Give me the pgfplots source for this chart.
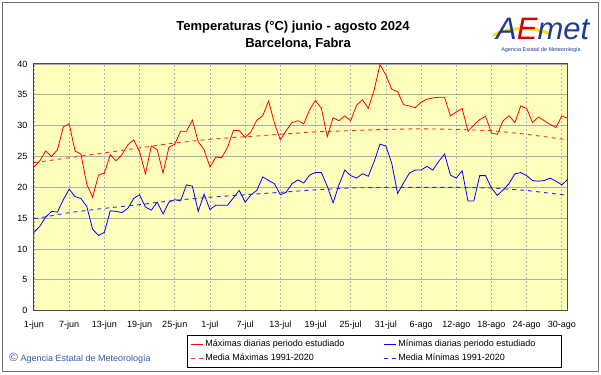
\documentclass[border=0pt]{standalone}
\usepackage{pgfplots}
\pgfplotsset{compat=1.18}
\usepackage{pgfplotstable}
\usetikzlibrary{calc}
\usepackage{fontspec}
\setmainfont{Liberation Sans}
\definecolor{plotbg}{RGB}{255,255,188}
\definecolor{aemetblue}{RGB}{30,60,150}
\definecolor{copyblue}{RGB}{50,90,170}
\pgfplotstableread{
d v
0 23.3
1 24.3
2 25.9
3 25.0
4 26.1
5 29.8
6 30.3
7 25.9
8 25.4
9 20.5
10 18.4
11 22.0
12 22.3
13 25.3
14 24.3
15 25.3
16 26.9
17 27.7
18 25.8
19 22.2
20 26.7
21 26.1
22 22.3
23 26.5
24 27.0
25 29.1
26 29.1
27 30.9
28 27.4
29 26.1
30 23.3
31 24.9
32 24.8
33 26.5
34 29.2
35 29.2
36 28.1
37 29.0
38 30.9
39 31.6
40 34.0
41 30.4
42 27.7
43 29.2
44 30.5
45 30.8
46 30.3
47 32.6
48 34.1
49 32.8
50 28.2
51 31.3
52 30.8
53 31.6
54 30.8
55 33.3
56 34.2
57 32.8
58 35.8
59 39.9
60 38.2
61 35.9
62 35.5
63 33.4
64 33.2
65 32.9
66 33.8
67 34.3
68 34.5
69 34.6
70 34.6
71 31.6
72 32.2
73 32.8
74 29.1
75 30.1
76 31.0
77 31.5
78 28.8
79 28.6
80 30.8
81 31.6
82 30.5
83 33.2
84 32.8
85 30.5
86 31.4
87 30.8
88 30.2
89 29.7
90 31.6
91 31.2
}\maxtable
\pgfplotstableread{
d v
0 12.7
1 13.7
2 15.2
3 16.1
4 16.0
5 18.0
6 19.7
7 18.5
8 18.2
9 16.9
10 13.2
11 12.2
12 12.7
13 16.2
14 16.1
15 15.9
16 16.6
17 18.2
18 18.8
19 16.8
20 16.3
21 17.6
22 15.7
23 17.6
24 18.0
25 17.8
26 20.4
27 20.2
28 16.1
29 18.9
30 16.4
31 17.1
32 17.1
33 17.1
34 18.3
35 19.5
36 17.6
37 18.8
38 19.5
39 21.7
40 21.1
41 20.6
42 18.8
43 19.2
44 20.6
45 21.2
46 20.7
47 22.0
48 22.4
49 22.4
50 20.2
51 17.5
52 20.4
53 22.8
54 21.9
55 21.5
56 22.2
57 21.8
58 24.2
59 27.0
60 26.7
61 23.9
62 19.0
63 20.7
64 22.3
65 22.8
66 22.8
67 23.4
68 22.8
69 24.2
70 25.4
71 22.0
72 21.5
73 22.7
74 17.8
75 17.8
76 21.9
77 21.9
78 19.9
79 18.7
80 19.6
81 20.6
82 22.2
83 22.4
84 21.9
85 21.1
86 21.0
87 21.1
88 21.5
89 21.0
90 20.4
91 21.3
}\mintable
\pgfplotstableread{
d v
0 24.0
6 24.8
12 25.6
18 26.4
24 27.2
30 27.8
36 28.2
42 28.6
48 29.0
54 29.2
60 29.4
66 29.5
72 29.4
78 29.2
84 28.6
91 27.7
}\meanmaxtable
\pgfplotstableread{
d v
0 14.9
6 15.9
12 16.6
18 17.2
24 17.9
30 18.4
36 18.8
42 19.2
48 19.6
54 19.9
60 20.0
66 20.0
72 20.0
78 19.9
84 19.5
91 18.7
}\meanmintable
\begin{document}
\begin{tikzpicture}[x=1pt,y=1pt]
\begin{axis}[
  scale only axis, width=533.7pt, height=246.7pt,
  xmin=0, xmax=91, ymin=0, ymax=40,
  xtick={0,6,...,90},
  xticklabels={1-jun,7-jun,13-jun,19-jun,25-jun,1-jul,7-jul,13-jul,19-jul,25-jul,31-jul,6-ago,12-ago,18-ago,24-ago,30-ago},
  ytick={0,5,...,40},
  major tick length=0pt,
  /pgf/number format/assume math mode=true,
  tick label style={font=\fontsize{9}{10}\selectfont},
  xticklabel style={yshift=-7pt},
  yticklabel style={xshift=-3pt},
  axis background/.style={fill=plotbg},
  axis line style={draw=black!70, line width=1pt},
  grid=major,
  x grid style={draw=gray!60, dash pattern=on 2pt off 2pt, line width=0.7pt},
  y grid style={draw=gray!65, solid, line width=0.8pt},
  legend columns=2,
  legend cell align=left,
  legend style={at={(0.2867,-0.098)}, anchor=north west, draw=black, line width=0.6pt, fill=white,
    font=\fontsize{9}{10}\selectfont, inner xsep=3pt, inner ysep=3pt, row sep=2pt,
    /tikz/every even column/.append style={column sep=37pt}},
  legend image code/.code={\draw[#1, line width=1pt] (0pt,0pt) -- (12pt,0pt);},
]
\addplot[red, line width=0.8pt] table[x=d,y=v] {\maxtable};
\addlegendentry{Máximas diarias periodo estudiado}
\addplot[blue, line width=0.8pt] table[x=d,y=v] {\mintable};
\addlegendentry{Mínimas diarias periodo estudiado\hspace*{21pt}}
\addplot[red!85!white, line width=0.9pt, dash pattern=on 4pt off 4pt] table[x=d,y=v] {\meanmaxtable};
\addlegendentry{Media Máximas 1991-2020}
\addplot[blue!85!white, line width=0.9pt, dash pattern=on 4pt off 4pt] table[x=d,y=v] {\meanmintable};
\addlegendentry{Media Mínimas 1991-2020}
\coordinate (A) at (rel axis cs:0,0);
\end{axis}
\begin{scope}[shift={($(A)+(-34,-63.3)$)}]
\useasboundingbox (0,0) rectangle (601,374);
\draw[black!55, line width=1pt] (2.5,2.5) rectangle (598.5,371.5);
\node[font=\bfseries\fontsize{13}{15}\selectfont, inner sep=0] at (293,347) {Temperaturas (°C) junio - agosto 2024};
\node[font=\bfseries\fontsize{13}{15}\selectfont, inner sep=0] at (298,330) {Barcelona, Fabra};
% logo
\draw[yellow!85!orange, line width=3pt, line cap=round] (494,339) .. controls (508,346) and (528,348) .. (548,341);
\node[anchor=base west, inner sep=0, font=\itshape\fontsize{31}{31}\selectfont] at (496,334) {\textcolor{aemetblue}{A}\textcolor{red!85!black}{E}\textcolor{aemetblue}{met}};
\node[inner sep=0, font=\fontsize{5.5}{6}\selectfont, text=aemetblue] at (541,324) {Agencia Estatal de Meteorología};
% copyright
\node[anchor=west, inner sep=0, text=copyblue] at (9,16) {\fontsize{12}{12}\selectfont ©\fontsize{9}{10}\selectfont\ Agencia Estatal de Meteorología};
\end{scope}
\end{tikzpicture}
\end{document}
